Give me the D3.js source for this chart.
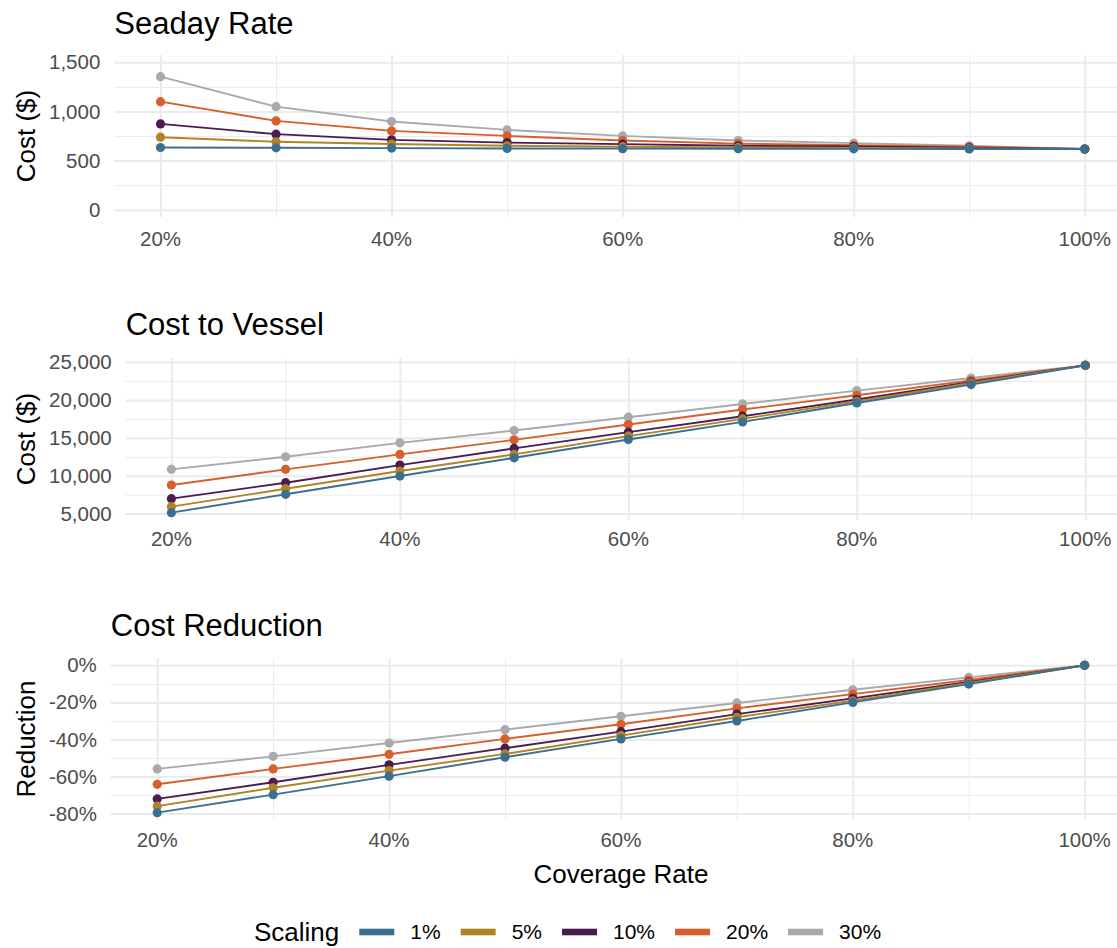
<!DOCTYPE html>
<html>
<head>
<meta charset="utf-8">
<script src="https://cdn.jsdelivr.net/npm/d3@7"></script>
<style>
  body { margin: 0; background: #fff; }
  svg { font-family: "Liberation Sans", Arial, sans-serif; display: block; }
</style>
</head>
<body>
<div id="chart"></div>
<script>
// coverage rates (x) and scaling groups
const coverage = [0.2, 0.3, 0.4, 0.5, 0.6, 0.7, 0.8, 0.9, 1.0];
const scaling = ["1%", "5%", "10%", "20%", "30%"];
const colors = ["#3b6f8f", "#b08324", "#4b1c50", "#d65f2c", "#aaaaae"];

// Seaday rate ($), one row per scaling group
const seadayRate = [
  [633, 630, 627, 623, 621, 620, 619, 618, 617],
  [738, 691, 668, 650, 641, 634, 629, 622, 617],
  [873, 769, 711, 683, 667, 650, 643, 630, 617],
  [1100, 904, 802, 751, 704, 672, 656, 640, 617],
  [1354, 1049, 897, 812, 751, 704, 677, 650, 617]
];

// Cost to vessel ($)
const vesselCost = [
  [5128, 7550, 9958, 12366, 14788, 17104, 19604, 22026, 24566],
  [5918, 8287, 10617, 12814, 15222, 17499, 19828, 22236, 24566],
  [6971, 9076, 11406, 13604, 15749, 17854, 20052, 22368, 24566],
  [8774, 10840, 12814, 14735, 16762, 18736, 20618, 22592, 24566],
  [10840, 12498, 14340, 15972, 17723, 19473, 21236, 22894, 24566]
];

// Cost reduction (fraction)
const costReduction = [
  [-0.795, -0.698, -0.598, -0.496, -0.397, -0.300, -0.200, -0.101, 0],
  [-0.760, -0.661, -0.568, -0.478, -0.379, -0.280, -0.191, -0.095, 0],
  [-0.721, -0.631, -0.537, -0.447, -0.358, -0.263, -0.178, -0.090, 0],
  [-0.642, -0.559, -0.480, -0.397, -0.318, -0.232, -0.155, -0.079, 0],
  [-0.559, -0.491, -0.419, -0.347, -0.275, -0.203, -0.132, -0.065, 0]
];

// ticks
const coverageTicks = [0.2, 0.4, 0.6, 0.8, 1.0];
const coverageMinor = [0.3, 0.5, 0.7, 0.9];
const rateTicks = [0, 500, 1000, 1500];
const rateMinor = [250, 750, 1250];
const costTicks = [5000, 10000, 15000, 20000, 25000];
const costMinor = [7500, 12500, 17500, 22500];
const reductionTicks = [-0.8, -0.6, -0.4, -0.2, 0];
const reductionMinor = [-0.7, -0.5, -0.3, -0.1];

const width = 1117, height = 948;
const plotRight = 1131;
const tickLabelStart = 49;

const svg = d3.select("#chart").append("svg")
  .attr("width", width)
  .attr("height", height);

const pct = d => Math.round(d * 100) + "%";
const comma = d3.format(",");

// ggplot-like 5% expansion
function expand(ext) {
  const r = ext[1] - ext[0];
  return [ext[0] - r * 0.05, ext[1] + r * 0.05];
}

const panels = [
  { title: "Seaday Rate", ylab: "Cost ($)", values: seadayRate, top: 55, bottom: 217,
    yDomain: expand([0, 1500]), ticks: rateTicks, minor: rateMinor, fmt: comma,
    titleY: 34, xLabelY: 246 },
  { title: "Cost to Vessel", ylab: "Cost ($)", values: vesselCost, top: 358, bottom: 520,
    yDomain: expand(d3.extent(vesselCost.flat())), ticks: costTicks, minor: costMinor, fmt: comma,
    titleY: 335, xLabelY: 546 },
  { title: "Cost Reduction", ylab: "Reduction", values: costReduction, top: 658, bottom: 820,
    yDomain: expand(d3.extent(costReduction.flat())), ticks: reductionTicks, minor: reductionMinor, fmt: pct,
    titleY: 636, xLabelY: 847 }
];

function drawPanel(p) {
  const g = svg.append("g");

  // measure the widest tick label to place the panel left edge
  const probe = g.append("g").attr("font-size", "20.5px");
  let maxW = 0;
  p.ticks.forEach(t => {
    const n = probe.append("text").text(p.fmt(t));
    maxW = Math.max(maxW, n.node().getComputedTextLength());
  });
  probe.remove();
  const left = tickLabelStart + maxW + 14;

  const x = d3.scaleLinear().domain(expand([0.2, 1.0])).range([left, plotRight]);
  const y = d3.scaleLinear().domain(p.yDomain).range([p.bottom, p.top]);

  // minor grid
  g.append("g")
    .attr("transform", `translate(0,${p.bottom})`)
    .call(d3.axisBottom(x).tickValues(coverageMinor).tickSize(-(p.bottom - p.top)).tickFormat(""))
    .call(a => a.select(".domain").remove())
    .call(a => a.selectAll("line").attr("stroke", "#ebebeb").attr("stroke-width", 1));
  g.append("g")
    .attr("transform", `translate(${left},0)`)
    .call(d3.axisLeft(y).tickValues(p.minor).tickSize(-(plotRight - left)).tickFormat(""))
    .call(a => a.select(".domain").remove())
    .call(a => a.selectAll("line").attr("stroke", "#ebebeb").attr("stroke-width", 1));

  // major grid + labels
  g.append("g")
    .attr("transform", `translate(0,${p.bottom})`)
    .call(d3.axisBottom(x).tickValues(coverageTicks).tickSize(-(p.bottom - p.top)).tickFormat(""))
    .call(a => a.select(".domain").remove())
    .call(a => a.selectAll("line").attr("stroke", "#ebebeb").attr("stroke-width", 2));
  g.append("g")
    .attr("transform", `translate(${left},0)`)
    .call(d3.axisLeft(y).tickValues(p.ticks).tickSize(-(plotRight - left)).tickFormat(""))
    .call(a => a.select(".domain").remove())
    .call(a => a.selectAll("line").attr("stroke", "#ebebeb").attr("stroke-width", 2));

  // tick labels
  g.append("g")
    .attr("transform", `translate(${left},0)`)
    .call(d3.axisLeft(y).tickValues(p.ticks).tickSize(0).tickPadding(14).tickFormat(p.fmt))
    .call(a => a.select(".domain").remove())
    .call(a => a.selectAll("text")
      .attr("font-size", "20.5px").attr("fill", "#4d4d4d")
      .attr("font-family", "Liberation Sans, Arial, sans-serif"));

  g.append("g")
    .selectAll("text")
    .data(coverageTicks)
    .join("text")
    .attr("x", d => x(d))
    .attr("y", p.xLabelY)
    .attr("text-anchor", "middle")
    .attr("font-size", "20.5px")
    .attr("fill", "#4d4d4d")
    .text(pct);

  // series: lines then points, 30% drawn first
  const order = d3.range(scaling.length).reverse();
  const line = d3.line().x((d, i) => x(coverage[i])).y(d => y(d));
  order.forEach(s => {
    g.append("path")
      .datum(p.values[s])
      .attr("d", line)
      .attr("fill", "none")
      .attr("stroke", colors[s])
      .attr("stroke-width", 1.9);
  });
  order.forEach(s => {
    g.append("g")
      .selectAll("circle")
      .data(p.values[s])
      .join("circle")
      .attr("cx", (d, i) => x(coverage[i]))
      .attr("cy", d => y(d))
      .attr("r", 4.6)
      .attr("fill", colors[s]);
  });

  // titles
  g.append("text")
    .attr("x", left)
    .attr("y", p.titleY)
    .attr("font-size", "31px")
    .attr("fill", "#000")
    .text(p.title);

  g.append("text")
    .attr("transform", `translate(35,${(p.top + p.bottom) / 2}) rotate(-90)`)
    .attr("text-anchor", "middle")
    .attr("font-size", "26px")
    .attr("fill", "#000")
    .text(p.ylab);

  return { left };
}

const last = panels.map(drawPanel).pop();

// x axis title
svg.append("text")
  .attr("x", (last.left + plotRight) / 2)
  .attr("y", 883)
  .attr("text-anchor", "middle")
  .attr("font-size", "26px")
  .attr("fill", "#000")
  .text("Coverage Rate");

// legend
const legend = svg.append("g").attr("transform", "translate(254,932)");
const legTitle = legend.append("text")
  .attr("x", 0)
  .attr("dy", "0.35em")
  .attr("font-size", "26px")
  .attr("fill", "#000")
  .text("Scaling");
let lx = legTitle.node().getComputedTextLength() + 20;
scaling.forEach((s, i) => {
  legend.append("rect")
    .attr("x", lx)
    .attr("y", -3.3)
    .attr("width", 35)
    .attr("height", 6.6)
    .attr("fill", colors[i]);
  const t = legend.append("text")
    .attr("x", lx + 51)
    .attr("dy", "0.35em")
    .attr("font-size", "21px")
    .attr("fill", "#000")
    .text(s);
  lx += 51 + t.node().getComputedTextLength() + 20;
});
</script>
</body>
</html>
